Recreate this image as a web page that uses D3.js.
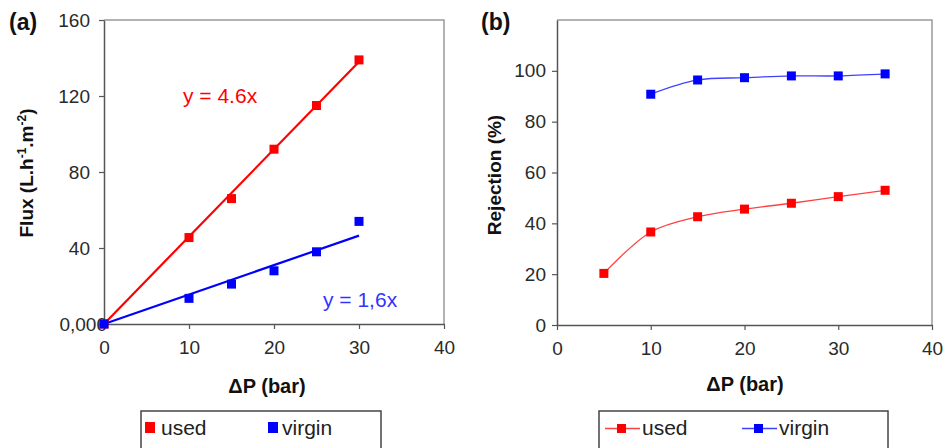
<!DOCTYPE html>
<html>
<head>
<meta charset="utf-8">
<script src="https://cdn.jsdelivr.net/npm/d3@7"></script>
<style>
  body { margin: 0; background: #fff; }
  svg { font-family: Arial, "Liberation Sans", sans-serif; }
  .tick text { fill: #2a2a2a; font-size: 19px; font-family: Arial, "Liberation Sans", sans-serif; }
  .lab { font-weight: bold; font-size: 19px; fill: #111; }
</style>
</head>
<body>
<script>
// panel (a) data - flux vs pressure
const fluxP = [0, 10, 15, 20, 25, 30];
const fluxUsed = [0, 45.5, 66, 92, 115, 139];
const fluxVirgin = [0, 13.5, 21, 28, 38, 54];
const slopeUsed = 4.6;
const slopeVirgin = 1.55;

// panel (b) data - rejection vs pressure
const rejPUsed = [5, 10, 15, 20, 25, 30, 35];
const rejUsed = [20.3, 36.6, 42.6, 45.6, 47.9, 50.5, 53];
const rejPVirgin = [10, 15, 20, 25, 30, 35];
const rejVirgin = [90.8, 96.4, 97.3, 98, 98, 98.8];

const xTicks = [0, 10, 20, 30, 40];
const fluxTicks = [0, 40, 80, 120, 160];
const rejTicks = [0, 20, 40, 60, 80, 100];

const red = "#ff0000", blue = "#0000ff";

const svg = d3.select("body").append("svg")
    .attr("width", 947)
    .attr("height", 448);

//Panel a scales
const xa = d3.scaleLinear().domain([0, 40]).range([104, 444]);
const ya = d3.scaleLinear().domain([0, 160]).range([324, 20]);

//Panel b scales
const xb = d3.scaleLinear().domain([0, 40]).range([557, 932]);
const yb = d3.scaleLinear().domain([0, 120]).range([325, 20]);

function frame(x, y, yTicks, yFmt, yPad) {
    const g = svg.append("g");
    const [x0, x1] = x.range();
    const [y0, y1] = y.range();
    // plot area border (gray top/right)
    g.append("path")
        .attr("d", `M${x0},${y1}H${x1}V${y0}`)
        .attr("fill", "none")
        .attr("stroke", "#9a9a9a")
        .attr("stroke-width", 1.5);

    const ax = g.append("g")
        .attr("transform", `translate(0,${y0})`)
        .call(d3.axisBottom(x).tickValues(xTicks).tickSize(5).tickSizeOuter(0).tickPadding(12));
    const ay = g.append("g")
        .attr("transform", `translate(${x0},0)`)
        .call(d3.axisLeft(y).tickValues(yTicks).tickFormat(yFmt).tickSize(5).tickSizeOuter(0).tickPadding(yPad));
    [ax, ay].forEach(a => {
        a.select(".domain").attr("stroke", "#555").attr("stroke-width", 1.5);
        a.selectAll(".tick line").attr("stroke", "#555").attr("stroke-width", 1.2);
    });
    return {g, ay};
}

function markers(g, x, y, xs, ys, color, size) {
    g.selectAll(null)
        .data(xs.map((d, i) => [d, ys[i]]))
        .enter()
        .append("rect")
        .attr("x", d => x(d[0]) - size / 2)
        .attr("y", d => y(d[1]) - size / 2)
        .attr("width", size)
        .attr("height", size)
        .attr("fill", color);
}

//Panel (a)
const fa = frame(xa, ya, fluxTicks, d => d === 0 ? "0,000" : d, 9);
const ga = fa.g;
// the "0,000" label in the original sits over the axis
fa.ay.selectAll(".tick text").filter(d => d === 0).attr("x", 3);

[[slopeUsed, red], [slopeVirgin, blue]].forEach(([s, c]) => {
    ga.append("line")
        .attr("x1", xa(0)).attr("y1", ya(0))
        .attr("x2", xa(30)).attr("y2", ya(s * 30))
        .attr("stroke", c)
        .attr("stroke-width", 2.2);
});
markers(ga, xa, ya, fluxP, fluxUsed, red, 9);
markers(ga, xa, ya, fluxP, fluxVirgin, blue, 9);

ga.append("text")
    .attr("x", 183).attr("y", 103)
    .attr("fill", red).style("font-size", "21px")
    .text("y = 4.6x");
ga.append("text")
    .attr("x", 323).attr("y", 307)
    .attr("fill", "#3333ff").style("font-size", "21px")
    .text("y = 1,6x");

//Panel (b)
const gb = frame(xb, yb, rejTicks, d => d, 6).g;
const smooth = d3.line()
    .x(d => xb(d[0]))
    .y(d => yb(d[1]))
    .curve(d3.curveCatmullRom.alpha(0.5));

[[rejPUsed, rejUsed, red], [rejPVirgin, rejVirgin, blue]].forEach(([xs, ys, c]) => {
    gb.append("path")
        .datum(xs.map((d, i) => [d, ys[i]]))
        .attr("d", smooth)
        .attr("fill", "none")
        .attr("stroke", c)
        .attr("stroke-opacity", 0.75)
        .attr("stroke-width", 1.3);
    markers(gb, xb, yb, xs, ys, c, 9);
});

//Titles and axis labels
svg.append("text").attr("class", "lab").attr("x", 9).attr("y", 30)
    .style("font-size", "23px").text("(a)");
svg.append("text").attr("class", "lab").attr("x", 481).attr("y", 30)
    .style("font-size", "23px").text("(b)");

svg.append("text").attr("class", "lab")
    .attr("x", 267).attr("y", 393)
    .attr("text-anchor", "middle")
    .style("font-size", "20px")
    .text("ΔP (bar)");
svg.append("text").attr("class", "lab")
    .attr("x", 745).attr("y", 391)
    .attr("text-anchor", "middle")
    .style("font-size", "20px")
    .text("ΔP (bar)");

const fluxLab = svg.append("text").attr("class", "lab")
    .attr("transform", "translate(33,173) rotate(-90)")
    .attr("text-anchor", "middle");
fluxLab.append("tspan").text("Flux (L.h");
fluxLab.append("tspan").attr("dy", -7).style("font-size", "12px").text("-1");
fluxLab.append("tspan").attr("dy", 7).text(".m");
fluxLab.append("tspan").attr("dy", -7).style("font-size", "12px").text("-2");
fluxLab.append("tspan").attr("dy", 7).text(")");

svg.append("text").attr("class", "lab")
    .attr("transform", "translate(501,175) rotate(-90)")
    .attr("text-anchor", "middle")
    .text("Rejection (%)");

//Legends
function legend(x0, x1) {
    const g = svg.append("g");
    g.append("rect")
        .attr("x", x0).attr("y", 411)
        .attr("width", x1 - x0).attr("height", 60)
        .attr("fill", "#fff")
        .attr("stroke", "#444")
        .attr("stroke-width", 1.5);
    return g;
}
const la = legend(141, 381);
[["used", red, 145, 161], ["virgin", blue, 268, 282]].forEach(([t, c, mx, tx]) => {
    la.append("rect").attr("x", mx).attr("y", 422).attr("width", 10).attr("height", 11).attr("fill", c);
    la.append("text").attr("x", tx).attr("y", 435).attr("fill", "#222")
        .style("font-size", "21px").text(t);
});
const lb = legend(599, 888);
[["used", red, 605, 642], ["virgin", blue, 742, 779]].forEach(([t, c, mx, tx]) => {
    lb.append("line").attr("x1", mx).attr("x2", mx + 35).attr("y1", 428.5).attr("y2", 428.5)
        .attr("stroke", c).attr("stroke-opacity", 0.75).attr("stroke-width", 1.3);
    lb.append("rect").attr("x", mx + 12).attr("y", 424).attr("width", 9).attr("height", 9).attr("fill", c);
    lb.append("text").attr("x", tx).attr("y", 435).attr("fill", "#222")
        .style("font-size", "21px").text(t);
});
</script>
</body>
</html>
